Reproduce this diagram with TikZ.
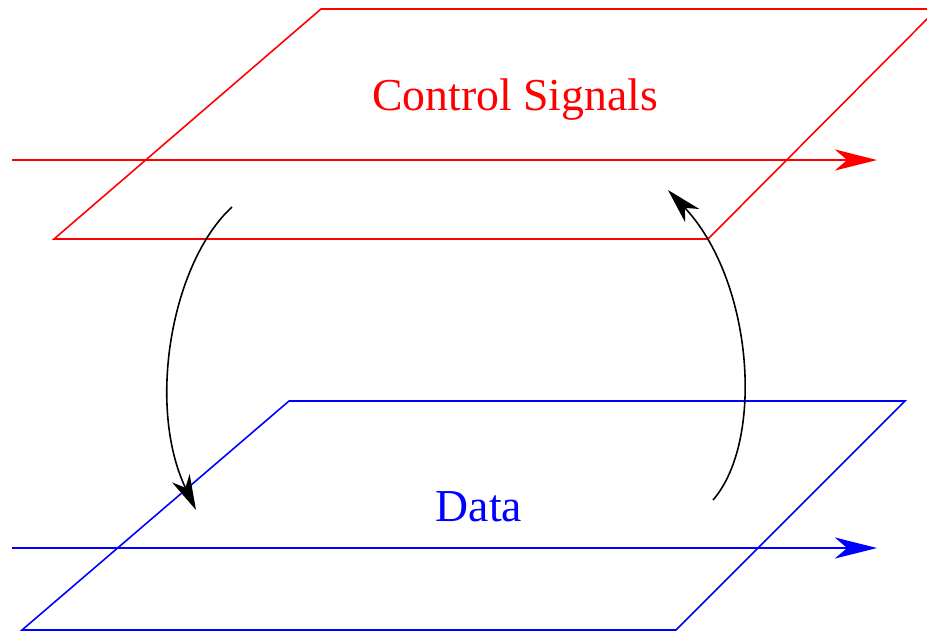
\documentclass[tikz,border=0pt]{standalone}
\usepackage{fontspec}
\setmainfont{Liberation Serif}
\usetikzlibrary{arrows.meta}

\begin{document}
\begin{tikzpicture}[
  x=0.01cm, y=-0.01cm,
  font=\fontsize{13}{15}\selectfont,
  plane/.style={line width=0.45pt, line join=miter},
  flow/.style={line width=0.45pt, -{Stealth[length=12pt, width=6pt, inset=3.5pt]}},
  link/.style={line width=0.45pt, -{Stealth[length=10pt, width=5.5pt, inset=3pt]}}
]
\useasboundingbox (0,0) rectangle (927,632);
\clip (0,0) rectangle (927,632);

% control layer
\draw[plane, red] (54,239) -- (321,9) -- (937,9) -- (708,239) -- cycle;
\node[red] (ctrl) at (515,100) {Control Signals};
\coordinate (ctrlin) at (12,160);
\coordinate (ctrlout) at (877,160);
\draw[flow, red] (ctrlin) -- (ctrlout);

% data layer
\draw[plane, blue] (22,630) -- (289,401) -- (905,401) -- (676,630) -- cycle;
\node[blue] (data) at (479,507) {Data};
\coordinate (datain) at (12,548);
\coordinate (dataout) at (877,548);
\draw[flow, blue] (datain) -- (dataout);

% between the layers
\coordinate (down1) at (232,207);
\coordinate (down2) at (196,510);
\coordinate (up1) at (713,500);
\coordinate (up2) at (668,190);
\draw[link] (down1) .. controls (172,262) and (146,405) .. (down2);
\draw[link] (up1) .. controls (765,440) and (753,280) .. (up2);
\end{tikzpicture}
\end{document}
